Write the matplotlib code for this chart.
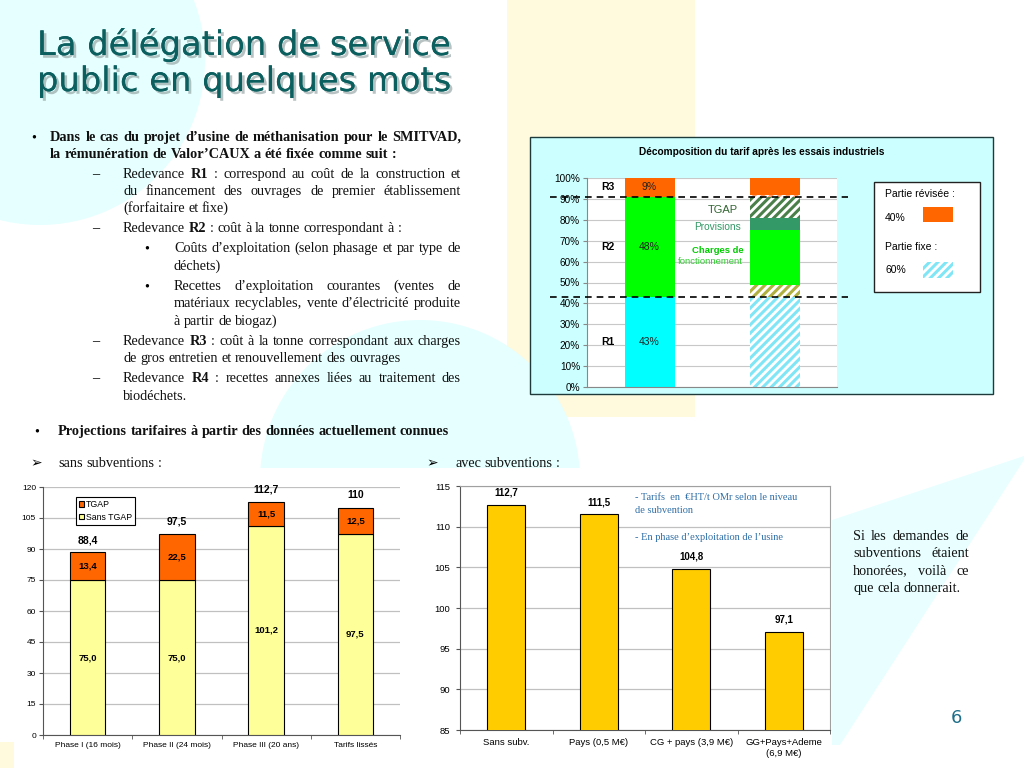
import matplotlib
matplotlib.use('Agg')
import matplotlib.pyplot as plt
from matplotlib.patches import Rectangle, Circle, Polygon
import matplotlib.patheffects as pe
import numpy as np

W, H = 1024, 768
SERIF = ['Liberation Serif', 'DejaVu Sans']
SANS = 'Liberation Sans'

# top chart : décomposition du tarif
redevances = ['R1', 'R2', 'R3']
part_redevance = [43, 48, 9]
# second bar, from bottom to top
detail_parts = [43, 6, 26, 6, 10, 1, 8]
detail_fixe = [True, True, False, False, True, True, False]
part_revisee = 40
part_fixe = 60

# bottom left : sans subventions
phases = ['Phase I (16 mois)', 'Phase II (24 mois)', 'Phase III (20 ans)', 'Tarifs lissés']
sans_tgap = [75.0, 75.0, 101.2, 97.5]
tgap = [13.4, 22.5, 11.5, 12.5]

# bottom right : avec subventions
niveaux = ['Sans subv.', 'Pays (0,5 M€)', 'CG + pays (3,9 M€)', 'GG+Pays+Ademe\n(6,9 M€)']
tarifs_subv = [112.7, 111.5, 104.8, 97.1]

plt.rcParams['hatch.linewidth'] = 2.2

fig = plt.figure(figsize=(W / 100, H / 100), dpi=100)
fig.patch.set_facecolor('white')
renderer = fig.canvas.get_renderer()

# background axes in pixel coordinates
bg = fig.add_axes([0, 0, 1, 1])
bg.set_xlim(0, W)
bg.set_ylim(H, 0)
bg.axis('off')

def add_ax(x0, y0, x1, y1):
    return fig.add_axes([x0 / W, 1 - y1 / H, (x1 - x0) / W, (y1 - y0) / H])

# slide decorations
bg.add_patch(Circle((40, 60), 165, color='#e6ffff', lw=0, zorder=0))
bg.add_patch(Rectangle((507, 0), 188, 417, color='#fff9dd', lw=0, zorder=0))
blob = Circle((420, 480), 160, color='#e6ffff', lw=0, zorder=0)
bg.add_patch(blob)
blob.set_clip_path(Rectangle((0, 0), W, 468, transform=bg.transData))
bg.add_patch(Polygon([(832, 520), (1024, 456), (1024, 460), (840, 745), (832, 745)],
                     closed=True, color='#e9ffff', lw=0, zorder=0))
bg.add_patch(Rectangle((0, 742), 14, 26, color='#fff9dd', lw=0, zorder=0))


def word_width(s, **kw):
    t = bg.text(0, 0, s, **kw)
    w = t.get_window_extent(renderer).width
    t.remove()
    return w


# body font size fitted on two lines of the slide
BODY = 10 * 346 / word_width('la rémunération de Valor’CAUX a été fixée comme suit :',
                             fontsize=10, family=SERIF, weight='bold')


def text_line(line, x0, y, x1=None, size=None, bold=False):
    # words starting with * are bold
    size = size or BODY
    tokens = []
    for w in line.split(' '):
        if w.startswith('*'):
            tokens.append((w[1:], True))
        else:
            tokens.append((w, bold))
    kws = [dict(fontsize=size, family=SERIF, weight='bold' if b else 'normal') for w, b in tokens]
    widths = [word_width(w, **k) for (w, b), k in zip(tokens, kws)]
    if x1 is None or len(tokens) < 2:
        gap = word_width('a a', **kws[0]) - word_width('aa', **kws[0])
    else:
        gap = (x1 - x0 - sum(widths)) / (len(tokens) - 1)
    x = x0
    for (w, b), k, wd in zip(tokens, kws, widths):
        bg.text(x, y, w, ha='left', va='baseline', color='#111111', **k)
        x += wd + gap


# title
title_lines = ['La délégation de service', 'public en quelques mots']
tsize = 24 * 414 / word_width(title_lines[0], fontsize=24, family='DejaVu Sans')
for i, tl in enumerate(title_lines):
    bg.text(37, 55 + i * 36, tl, fontsize=tsize, family='DejaVu Sans', color='#0b5f5f',
            ha='left', va='baseline',
            path_effects=[pe.withSimplePatchShadow(offset=(2, -2), shadow_rgbFace='#8a9a9a', alpha=0.6),
                          pe.Normal()])

# bullet text
bg.text(31, 141, '•', fontsize=BODY, family=SERIF, va='baseline')
text_line('Dans le cas du projet d’usine de méthanisation pour le SMITVAD,', 50, 141, 461, bold=True)
text_line('la rémunération de Valor’CAUX a été fixée comme suit :', 50, 158, bold=True)

body = [
    ('–', 'Redevance *R1 : correspond au coût de la construction et', 178, True),
    (None, 'du financement des ouvrages de premier établissement', 195, True),
    (None, '(forfaitaire et fixe)', 212, False),
    ('–', 'Redevance *R2 : coût à la tonne correspondant à :', 232, False),
    ('•', 'Coûts d’exploitation (selon phasage et par type de', 252, True),
    (None, 'déchets)', 270, False),
    ('•', 'Recettes d’exploitation courantes (ventes de', 290, True),
    (None, 'matériaux recyclables, vente d’électricité produite', 307, True),
    (None, 'à partir de biogaz)', 325, False),
    ('–', 'Redevance *R3 : coût à la tonne correspondant aux charges', 345, True),
    (None, 'de gros entretien et renouvellement des ouvrages', 362, False),
    ('–', 'Redevance *R4 : recettes annexes liées au traitement des', 382, True),
    (None, 'biodéchets.', 400, False),
]
level = 0
for mark, line, y, just in body:
    if mark == '–':
        level = 0
    elif mark == '•':
        level = 1
    x0 = 123 if level == 0 else 174
    if mark:
        bg.text(92 if mark == '–' else 144, y, mark, fontsize=BODY, family=SERIF, va='baseline')
    text_line(line, x0, y, 461 if just else None)

bg.text(34, 435, '•', fontsize=BODY, family=SERIF, va='baseline')
text_line('Projections tarifaires à partir des données actuellement connues', 58, 435, bold=True)
bg.text(30, 467, '➢', fontsize=10, family=['DejaVu Sans'], va='baseline')
text_line('sans subventions :', 58, 467)
bg.text(426, 467, '➢', fontsize=10, family=['DejaVu Sans'], va='baseline')
text_line('avec subventions :', 455, 467)

# side text
side = [('Si les demandes de', True), ('subventions étaient', True),
        ('honorées, voilà ce', True), ('que cela donnerait.', False)]
for i, (line, just) in enumerate(side):
    text_line(line, 853, 540 + i * 17.3, 969 if just else None)

bg.text(956, 718, '6', fontsize=13, family='DejaVu Sans', color='#1f6f8b', ha='center', va='center')

# ---------------- top right chart ----------------
bg.add_patch(Rectangle((530, 137), 463, 257, facecolor='#ccffff', edgecolor='#1e3a3a', lw=1.0, zorder=1))
bg.text(762, 152, 'Décomposition du tarif après les essais industriels', fontsize=7.3,
        family=SANS, weight='bold', ha='center', va='center', zorder=2)

ax1 = add_ax(587, 178, 837, 387)
ax1.set_facecolor('white')
ax1.set_xlim(-0.5, 1.5)
ax1.set_ylim(0, 100)
ax1.set_yticks(np.arange(0, 101, 10))
ax1.set_yticklabels(['%d%%' % v for v in range(0, 101, 10)], fontsize=7.2, family=SANS)
ax1.set_xticks([])
ax1.yaxis.grid(True, color='#c8c8c8', lw=0.8)
ax1.set_axisbelow(True)
for s in ['top', 'right']:
    ax1.spines[s].set_visible(False)
for s in ['left', 'bottom']:
    ax1.spines[s].set_color('#888888')
ax1.tick_params(axis='y', length=3, color='#888888', pad=2)

main_colors = ['#00ffff', '#00ff00', '#ff6600']
bot = 0
for name, val, col in zip(redevances, part_redevance, main_colors):
    ax1.bar(0, val, 0.4, bottom=bot, color=col, lw=0)
    ylab = bot + val / 2 if name != 'R3' else 95.7
    ax1.text(0, ylab, '%d%%' % val, fontsize=7.5, family=SANS, ha='center', va='center', color='#222222')
    ax1.text(-0.33, ylab, name, fontsize=7.5, family=SANS, weight='bold', ha='center', va='center')
    bot += val

detail_colors = ['#80e6f6', '#b0b040', '#00ff00', '#339966', '#4a7f4a', '#ff9966', '#ff6600']
bottoms = np.concatenate([[0], np.cumsum(detail_parts)[:-1]])
for val, b, fixe, col in zip(detail_parts, bottoms, detail_fixe, detail_colors):
    if fixe:
        ax1.bar(1, val, 0.4, bottom=b, facecolor='white', edgecolor=col, hatch='////', lw=0)
    else:
        ax1.bar(1, val, 0.4, bottom=b, color=col, lw=0)

for lvl in [part_redevance[0], part_redevance[0] + part_redevance[1]]:
    ax1.plot([-0.8, 1.59], [lvl, lvl], ls=(0, (4, 3)), color='black', lw=1.2, clip_on=False, zorder=5)

ax1.text(0.71, 84.5, 'TGAP', fontsize=8, family=SANS, color='#336633', ha='right', va='center')
ax1.text(0.73, 76.5, 'Provisions', fontsize=7.3, family=SANS, color='#339966', ha='right', va='center')
ax1.text(0.75, 65.5, 'Charges de', fontsize=6.8, family=SANS, weight='bold', color='#00cc00',
         ha='right', va='center')
ax1.text(0.75, 60, 'fonctionnement', fontsize=6.8, family=SANS, color='#33cc33', ha='right', va='center')

# legend box
bg.add_patch(Rectangle((874, 182), 106, 110, facecolor='white', edgecolor='#222222', lw=1, zorder=2))
bg.text(885, 194, 'Partie révisée :', fontsize=7.5, family=SANS, va='center', zorder=3)
bg.text(885, 218, '%d%%' % part_revisee, fontsize=7.5, family=SANS, va='center', zorder=3)
bg.add_patch(Rectangle((923, 207), 30, 15, facecolor='#ff6600', lw=0, zorder=3))
bg.text(885, 247, 'Partie fixe :', fontsize=7.5, family=SANS, va='center', zorder=3)
bg.text(885, 270, '%d%%' % part_fixe, fontsize=7.5, family=SANS, va='center', zorder=3)
bg.add_patch(Rectangle((923, 262), 30, 16, facecolor='white', edgecolor='#80e6f6', hatch='////',
                       lw=0, zorder=3))

# ---------------- bottom left chart ----------------
ax2 = add_ax(43, 487, 400, 735)
ax2.set_facecolor('white')
x = np.arange(len(phases))
ax2.bar(x, sans_tgap, 0.4, color='#ffff99', edgecolor='black', lw=0.8, label='Sans TGAP', zorder=3)
ax2.bar(x, tgap, 0.4, bottom=sans_tgap, color='#ff6600', edgecolor='black', lw=0.8, label='TGAP', zorder=3)
ax2.set_xlim(-0.5, len(phases) - 0.5)
ax2.set_ylim(0, 120)
ax2.set_yticks(np.arange(0, 121, 15))
ax2.yaxis.grid(True, color='#c0c0c0', lw=0.9)
ax2.set_axisbelow(True)
ax2.set_xticks(x)
ax2.set_xticklabels(phases, fontsize=6, family=SANS)
ax2.set_xticks(np.arange(-0.5, len(phases), 1), minor=True)
ax2.tick_params(axis='x', which='major', length=0, pad=5)
ax2.tick_params(axis='x', which='minor', length=3, color='#555555')
ax2.tick_params(axis='y', labelsize=6, length=3, color='#555555', pad=2)
for t in ax2.get_yticklabels():
    t.set_family(SANS)
for s in ['top', 'right']:
    ax2.spines[s].set_visible(False)
for s in ['left', 'bottom']:
    ax2.spines[s].set_color('#555555')
for i in range(len(phases)):
    tot = sans_tgap[i] + tgap[i]
    ax2.text(i, sans_tgap[i] / 2, ('%.1f' % sans_tgap[i]).replace('.', ','), fontsize=6.8,
             family=SANS, weight='bold', ha='center', va='center', zorder=4)
    ax2.text(i, sans_tgap[i] + tgap[i] / 2, ('%.1f' % tgap[i]).replace('.', ','), fontsize=6.8,
             family=SANS, weight='bold', ha='center', va='center', zorder=4)
    ax2.text(i, tot + 3.5, ('%g' % round(tot, 1)).replace('.', ','), fontsize=7.5,
             family=SANS, weight='bold', ha='center', va='bottom', zorder=4)
h, l = ax2.get_legend_handles_labels()
leg = ax2.legend(h[::-1], l[::-1], loc='upper left', bbox_to_anchor=(76 / W, 1 - 497 / H),
                 bbox_transform=fig.transFigure, prop={'family': SANS, 'size': 6.3},
                 frameon=True, fancybox=False, edgecolor='black', framealpha=1,
                 borderpad=0.35, handlelength=0.6, handleheight=0.6, handletextpad=0.15,
                 labelspacing=0.4, borderaxespad=0)
leg.get_frame().set_linewidth(0.8)

# ---------------- bottom right chart ----------------
ax3 = add_ax(460, 486, 830, 730)
ax3.set_facecolor('white')
x3 = np.arange(len(niveaux))
ax3.bar(x3, tarifs_subv, 0.41, color='#ffcc00', edgecolor='black', lw=0.8, zorder=3)
ax3.set_xlim(-0.5, len(niveaux) - 0.5)
ax3.set_ylim(85, 115)
ax3.set_yticks(np.arange(85, 116, 5))
ax3.yaxis.grid(True, color='#c0c0c0', lw=0.9)
ax3.set_axisbelow(True)
ax3.set_xticks(x3)
ax3.set_xticklabels(niveaux, fontsize=6.8, family=SANS, linespacing=1.3)
ax3.set_xticks(np.arange(-0.5, len(niveaux), 1), minor=True)
ax3.tick_params(axis='x', which='major', length=0, pad=6)
ax3.tick_params(axis='x', which='minor', length=3, color='#555555')
ax3.tick_params(axis='y', labelsize=6.8, length=3, color='#555555', pad=4)
for t in ax3.get_yticklabels():
    t.set_family(SANS)
for s in ['top', 'right']:
    ax3.spines[s].set_color('#a0a0a0')
for s in ['left', 'bottom']:
    ax3.spines[s].set_color('#555555')
for i, v in enumerate(tarifs_subv):
    ax3.text(i, v + 0.9, ('%.1f' % v).replace('.', ','), fontsize=7, family=SANS, weight='bold',
             ha='center', va='bottom', zorder=4)
ax3.text(0.473, 0.953, '- Tarifs  en  €HT/t OMr selon le niveau', transform=ax3.transAxes,
         fontsize=7.5, family=SERIF, color='#2f6fa7', ha='left', va='center')
ax3.text(0.473, 0.9, 'de subvention', transform=ax3.transAxes,
         fontsize=7.5, family=SERIF, color='#2f6fa7', ha='left', va='center')
ax3.text(0.473, 0.788, '- En phase d’exploitation de l’usine', transform=ax3.transAxes,
         fontsize=7.5, family=SERIF, color='#2f6fa7', ha='left', va='center')

fig.savefig('out.png', dpi=100)
